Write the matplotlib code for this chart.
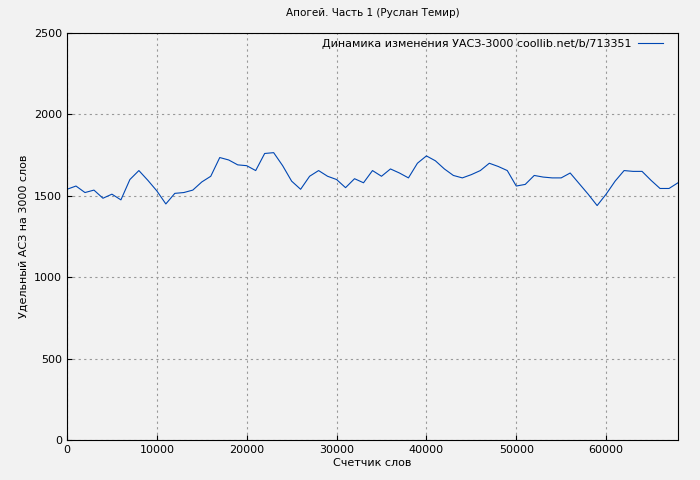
import matplotlib
matplotlib.use("Agg")
import matplotlib.pyplot as plt

words = list(range(0, 69000, 1000))
values = [1540,1560,1520,1535,1485,1510,1475,1600,1655,1595,1530,1450,1515,1520,1535,1585,1620,1735,1720,1690,
          1685,1655,1760,1765,1685,1590,1540,1620,1655,1620,1600,1550,1605,1580,1655,1620,1665,1640,1610,1700,
          1745,1715,1665,1625,1610,1630,1655,1700,1680,1655,1560,1570,1625,1615,1610,1610,1640,1575,1510,1440,
          1510,1590,1655,1650,1650,1595,1545,1545,1580]
xticks = [0,10000,20000,30000,40000,50000,60000]
yticks = [0,500,1000,1500,2000,2500]

fig = plt.figure(figsize=(7,4.8), dpi=100, facecolor='#f2f2f2')
ax = fig.add_axes([67/700, 40/480, 611/700, 407/480])
ax.set_facecolor('#f2f2f2')
ax.plot(words, values, color='#0047b3', lw=0.8, label='Динамика изменения УАСЗ-3000 coollib.net/b/713351')
ax.set_xlim(0, 68000); ax.set_ylim(0, 2500)
ax.set_xticks(xticks); ax.set_yticks(yticks)
ax.grid(True, color='#999999', ls=(0,(2,3)), lw=0.8)
ax.tick_params(labelsize=8, direction='in')
ax.set_title('Апогей. Часть 1 (Руслан Темир)', fontsize=7.5, pad=12)
ax.set_xlabel('Счетчик слов', fontsize=8, labelpad=2)
ax.set_ylabel('Удельный АСЗ на 3000 слов', fontsize=8)
leg = ax.legend(loc='upper right', fontsize=8, frameon=False, markerfirst=False, handlelength=2.3,
                handletextpad=0.6, borderaxespad=0.1, bbox_to_anchor=(0.985, 1.0))
fig.savefig('out.png', dpi=100, facecolor='#f2f2f2')
